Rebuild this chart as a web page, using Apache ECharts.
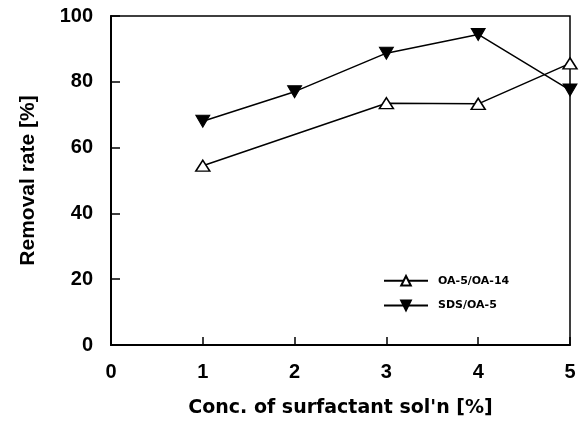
<!DOCTYPE html>
<html><head><meta charset="utf-8">
<script src="https://cdn.jsdelivr.net/npm/echarts@6/dist/echarts.min.js"></script>
<style>html,body{margin:0;padding:0;background:#fff}#c{width:588px;height:425px}</style>
</head><body><div id="c"></div>
<script>
const seriesNames = ['OA-5/OA-14', 'SDS/OA-5'];
const oaX = [1, 3, 4, 5];
const oaY = [54.5, 73.5, 73.3, 85.6];
const sdsX = [1, 2, 3, 4, 5];
const sdsY = [68, 77, 88.7, 94.4, 77.5];
const xTicks = [0, 1, 2, 3, 4, 5];
const yTicks = [0, 20, 40, 60, 80, 100];

const font = 'Liberation Sans, Arial, sans-serif';
const wide = 'DejaVu Sans, sans-serif';
const chart = echarts.init(document.getElementById('c'), null, {renderer: 'canvas'});
chart.setOption({
  animation: false,
  backgroundColor: '#fff',
  grid: {left: 111, right: 18, top: 16, bottom: 80, show: true, borderColor: '#000', borderWidth: 1.5},
  legend: {
    left: 378, top: 270, orient: 'vertical', itemWidth: 44, itemHeight: 12, itemGap: 13,
    data: seriesNames,
    textStyle: {fontFamily: wide, fontWeight: 'bold', fontSize: 11, color: '#000', padding: [0, 0, 0, 5]}
  },
  xAxis: {
    type: 'value', min: xTicks[0], max: xTicks[xTicks.length - 1], interval: 1,
    name: "Conc. of surfactant sol'n [%]", nameLocation: 'middle', nameGap: 54,
    nameTextStyle: {fontFamily: wide, fontWeight: 'bold', fontSize: 19, color: '#000'},
    axisLine: {lineStyle: {color: '#000', width: 2}},
    axisTick: {inside: true, length: 8, lineStyle: {color: '#000', width: 1.5}},
    axisLabel: {fontFamily: font, fontWeight: 'bold', fontSize: 20, color: '#000', margin: 17},
    splitLine: {show: false}
  },
  yAxis: {
    type: 'value', min: yTicks[0], max: yTicks[yTicks.length - 1], interval: 20,
    name: 'Removal rate [%]', nameLocation: 'middle', nameGap: 72,
    nameTextStyle: {fontFamily: font, fontWeight: 'bold', fontSize: 21, color: '#000'},
    axisLine: {lineStyle: {color: '#000', width: 2}},
    axisTick: {inside: true, length: 9, lineStyle: {color: '#000', width: 1.5}},
    axisLabel: {fontFamily: font, fontWeight: 'bold', fontSize: 20, color: '#000', margin: 18},
    splitLine: {show: false}
  },
  series: [
    {
      name: seriesNames[0], type: 'line',
      data: oaX.map((x, i) => [x, oaY[i]]),
      symbol: 'triangle', symbolSize: [14, 11],
      lineStyle: {color: '#000', width: 1.5},
      itemStyle: {color: '#fff', borderColor: '#000', borderWidth: 1.5}
    },
    {
      name: seriesNames[1], type: 'line',
      data: sdsX.map((x, i) => [x, sdsY[i]]),
      symbol: 'triangle', symbolRotate: 180, symbolSize: [14, 12],
      lineStyle: {color: '#000', width: 1.5},
      itemStyle: {color: '#000', borderColor: '#000', borderWidth: 1}
    }
  ]
});
</script></body></html>
